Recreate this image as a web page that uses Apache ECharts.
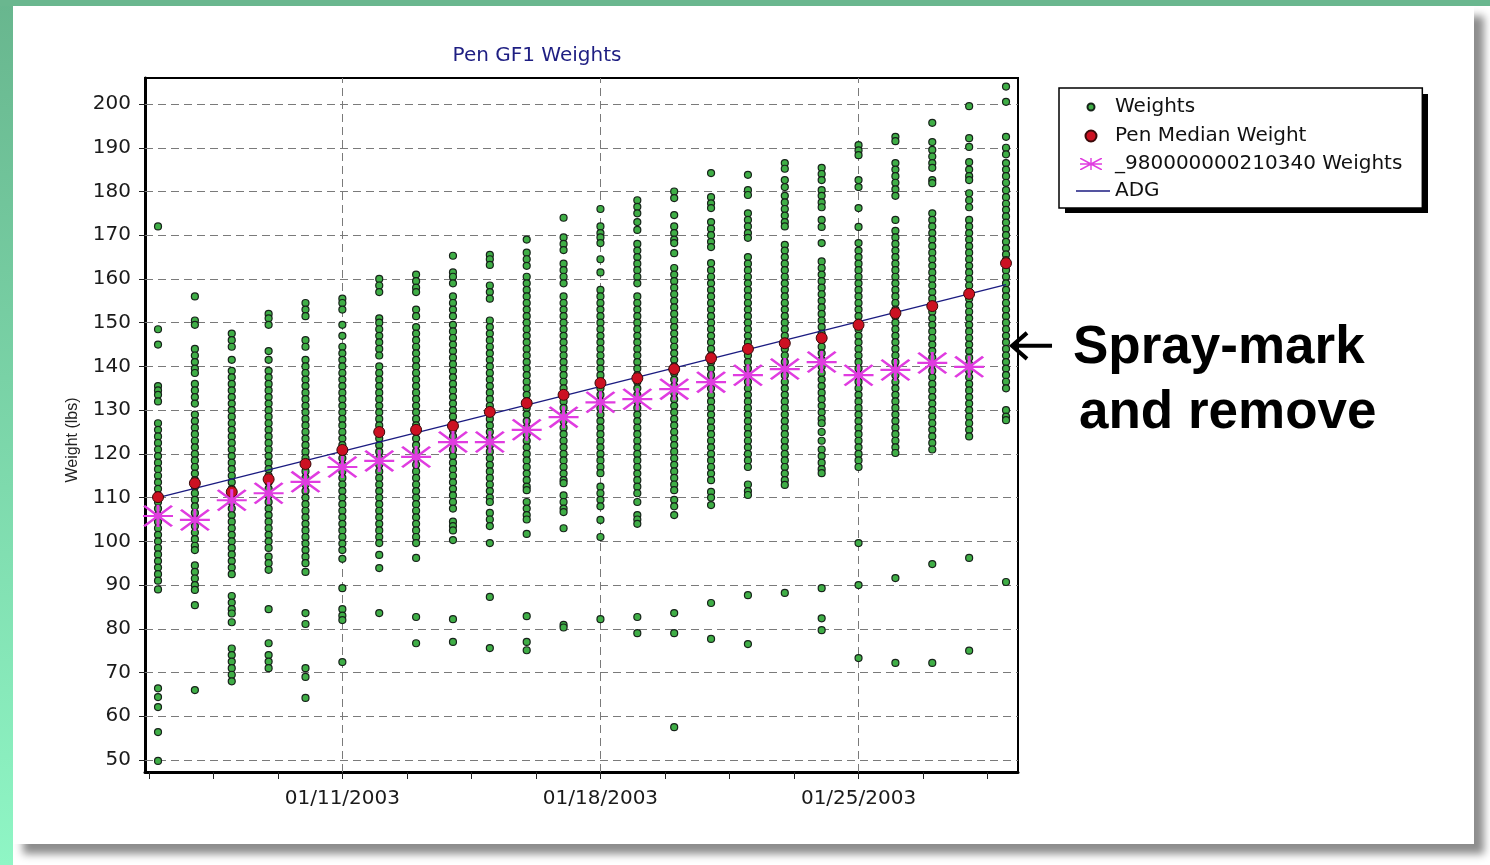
<!DOCTYPE html>
<html><head><meta charset="utf-8">
<script src="https://cdn.jsdelivr.net/npm/echarts@6/dist/echarts.min.js"></script>
<style>
html,body{margin:0;padding:0;width:1490px;height:865px;overflow:hidden;background:#ffffff;}
#frameL{position:absolute;left:0;top:0;width:13px;height:865px;background:linear-gradient(#68b68e,#8ff6c5);}
#frameT{position:absolute;left:0;top:0;width:1490px;height:6px;background:#6ab78f;}
#card{position:absolute;left:13px;top:6px;width:1461px;height:838px;background:#ffffff;box-shadow:10px 10px 8px rgba(0,0,0,0.45);}
#chart{position:absolute;left:0;top:0;width:1490px;height:865px;}
</style></head>
<body>
<div id="frameL"></div><div id="frameT"></div><div id="card"></div>
<div id="chart"></div>
<script>
// ---------------- DATA ----------------
const dates = ['01/06/2003','01/07/2003','01/08/2003','01/09/2003','01/10/2003','01/11/2003','01/12/2003','01/13/2003',
  '01/14/2003','01/15/2003','01/16/2003','01/17/2003','01/18/2003','01/19/2003','01/20/2003','01/21/2003',
  '01/22/2003','01/23/2003','01/24/2003','01/25/2003','01/26/2003','01/27/2003','01/28/2003','01/29/2003'];
const xLabelDates = ['01/11/2003','01/18/2003','01/25/2003'];
const yTickLabels = [50,60,70,80,90,100,110,120,130,140,150,160,170,180,190,200];

const medianWeights = [110.1,113.3,111.3,114.2,117.7,120.9,125.0,125.5,126.4,129.6,131.6,133.5,136.2,137.3,139.4,141.9,144.0,145.3,146.5,149.5,152.2,153.8,156.6,163.6];
const tagWeights = [105.8,104.9,109.4,111.0,113.6,117.0,118.4,119.3,122.7,122.7,125.5,128.4,131.8,132.5,134.8,136.4,138.0,139.4,141.0,138.0,139.2,140.8,139.9,null];
const adgWeights = [110.0,158.7];   // ADG line at first and last weigh day
const sprayMarkWeight = 144.7;      // animal pointed at by the annotation (last day)

const wJan06 = [172,148.5,145,135.5,134.5,133.5,132,127,125.5,124,122.5,121,119.5,118,116.5,115,113.5,112,110.5,109,107.5,106,104.5,103,101.5,100,98.5,97,95.5,94,92.5,91,89,66.4,64.4,62.1,56.4,49.8];
const wJan07 = [156,150.5,149.5,144,142.5,141,139.5,138.5,136,134.5,133,131.5,129,127.5,126,124.5,123,121.5,120,118.5,117,115.5,114,112.5,111,109.5,108,106.5,105,103.5,102,100.5,99,98,94.5,93,91.5,90,88.9,85.4,66];
const wJan08 = [147.5,146,144.5,141.5,139,137.5,136,134.5,133,131.5,130,128.5,127,125.5,124,122.5,121,119.5,118,116.5,115,113.5,112,110.5,109,107.5,106,104.5,103,101.5,100,98.5,97,95.5,94,92.5,87.5,86,84.5,83.5,81.5,75.5,74,72.5,71,69.5,68];
const wJan09 = [152,151,149.5,143.5,141.5,139,137.5,136,134.5,133,131.5,130,128.5,127,125.5,124,122.5,121,119.5,118,116.5,115,113.5,112,110.5,109,107.5,106,104.5,103,101.5,100,98.5,96.5,95,93.5,84.5,76.7,74,72.5,71];
const wJan10 = [154.5,153,151.5,146,144.5,141.5,140,138.5,137,135.5,134,132.5,131,129.5,128,126.5,125,123.5,122,120.5,119,117.5,116,114.5,113,111.5,110,108.5,107,105.5,104,102.5,101,99.5,98,96.5,95,93,83.6,81.1,71,69,64.2];
const wJan11 = [155.5,154.5,153,149.5,147,144.5,143,141.5,140,138.5,137,135.5,134,132.5,131,129.5,128,126.5,125,123.5,122,120.5,119,117.5,116,114.5,113,111.5,110,108.5,107,105.5,104,102.5,101,99.5,98,96,89.3,84.5,83,82,72.4];
const wJan12 = [160,158.5,157,151,150,148.5,147,145.5,144,142.5,140,138.5,137,135.5,134,132.5,131,129.5,128,126.5,125,123.5,122,120.5,119,117.5,116,114.5,113,111.5,110,108.5,107,105.5,104,102.5,101,99.6,96.9,93.9,83.6];
const wJan13 = [161,159.5,158,157,153,151.5,149,147.5,146,144.5,143,141.5,140,138.5,137,135.5,134,132.5,131,129.5,128,126.5,125,123.5,122,120.5,119,117.5,116,114.5,113,111.5,110,108.5,107,105.5,104,102.5,101,99.6,96.2,82.7,76.7];
const wJan14 = [165.3,161.5,160.5,159,156,154.5,153,151.5,149.5,148,146.5,145,143.5,142,140.5,139,137.5,136,134.5,133,131.5,130,128.5,127,125.5,124,122.5,121,119.5,118,116.5,115,113.5,112,110.5,109,107.5,104.5,103.5,102.5,100.3,82.2,77];
const wJan15 = [165.5,164.5,163.2,158.5,157,155.5,150.5,149,147.5,146,144.5,143,141.5,140,138.5,137,135.5,134,132.5,131,129.5,128,126.5,125,123.5,122,120.5,119,117.5,116,114.5,113,111.5,110,109,106.5,105,103.5,99.6,87.3,75.6];
const wJan16 = [169,166,164.5,163,160.5,159,157.5,156,154.5,153,151.5,150,148.5,147,145.5,144,142.5,141,139.5,138,136.5,135,133.5,132,130.5,129,127.5,126,124.5,123,121.5,120,118.5,117,115.5,114,112.5,111.7,109,107.5,106,105,101.7,82.9,77,75.1];
const wJan17 = [174,169.5,168,166.6,163.5,162,160.5,159,156,154.5,153,151.5,150,148.5,147,145.5,144,142.5,141,139.5,138,136.5,135,133.5,132,130.5,129,127.5,126,124.5,123,121.5,120,118.5,117,115.5,114,113.3,110.5,109,107.5,106.7,103,80.9,80.3];
const wJan18 = [176,172,170.5,169.5,168.2,164.5,161.5,157.5,156,154.5,153,151.5,150,148.5,147,145.5,144,142.5,141,139.5,138,136.5,135,133.5,132,130.5,129,127.5,126,124.5,123,121.5,120,118.5,117,115.6,112.5,111,109.5,108,104.9,101,82.2];
const wJan19 = [178,176.5,175,173,171.2,168,166.5,165,163.5,162,160.5,159,156,154.5,153,151.5,150,148.5,147,145.5,144,142.5,141,139.5,138,136.5,135,133.5,132,130.5,129,127.5,126,124.5,123,121.5,120,118.5,117,115.5,114,112.5,111,109,106,105,104,82.7,79];
const wJan20 = [180,178.5,174.6,172,170.5,169,168.2,165.9,162.5,161,159.5,158,156.5,155,153.5,152,150.5,149,147.5,146,144.5,143,141.5,140,138.5,137,135.5,134,132.5,131,129.5,128,126.5,125,123.5,122,120.5,119,117.5,116,114.5,113,111.7,109.5,108,106,83.6,79,57.5];
const wJan21 = [184.2,178.7,177.3,176.2,173,171.5,170,168.5,167.3,163.6,162,160.5,159,157.5,156,154.5,153,151.5,150,148.5,147,145.5,144,142.5,141,139.5,138,136.5,135,133.5,132,130.5,129,127.5,126,124.5,123,121.5,120,118.5,117,115.5,114,111.3,110,108.3,85.9,77.7];
const wJan22 = [183.8,180.3,179.2,175,173.5,172,170.5,169.4,165,163.5,162,160.5,159,157.5,156,154.5,153,151.5,150,148.5,147,145.5,144,142.5,141,139.5,138,136.5,135,133.5,132,130.5,129,127.5,126,124.5,123,121.5,120,118.5,117,113,111.5,110.6,87.7,76.5];
const wJan23 = [186.5,185.2,182.6,181,179,177.5,176,174.5,173,172,167.8,166.5,165,163.5,162,160.5,159,157.5,156,154.5,153,151.5,150,148.5,147,145.5,144,142.5,141,139.5,138,136.5,135,133.5,132,130.5,129,127.5,126,124.5,123,121.5,120,118.5,117,115.5,114,112.9,88.2];
const wJan24 = [185.4,184,182.6,180.3,179,177.5,176.4,173.5,171.9,168.2,164,162.5,161,159.5,158,156.5,155,153.5,152,150.5,149,147.5,146,144.5,143,141.5,140,138.5,137,135.5,134,132.5,131,129.5,128,127,125,123,121,119.5,118,116.5,115.6,89.3,82.4,79.7];
const wJan25 = [190.6,189.4,188.3,182.6,181,176.2,171.9,168.2,166.5,165,163.5,162,160.5,159,157.5,156,154.5,153,151.5,150,148.5,147,145.5,144,142.5,141,139.5,138,136.5,135,133.5,132,130.5,129,127.5,126,124.5,123,121.5,120,118.5,117,99.6,90,73.3];
const wJan26 = [192.5,191.5,186.5,185,183.5,182,180.5,179,173.5,171,169.5,168,166.5,165,163.5,162,160.5,159,157.5,156,154.5,153,151.5,150,148.5,147,145.5,144,142.5,141,139.5,138,136.5,135,133.5,132,130.5,129,127.5,126,124.5,123,121.5,120.2,91.6,72.2];
const wJan27 = [195.7,191.3,189.5,188,186.5,185.4,182.6,181.9,175,173.5,172,170.5,169,167.5,166,164.5,163,161.5,160,158.5,157,155.5,154,152.5,151,149.5,148,146.5,145,143.5,142,140.5,139,137.5,136,134.5,133,131.5,130,128.5,127,125.5,124,122.5,121,94.8,72.2];
const wJan28 = [199.5,192.2,190.2,186.7,185,183.5,182.6,179.6,178,176.4,173.5,172,170.5,169,167.5,166,164.5,163,161.5,160,158.5,157,155.5,154,152.5,151,149.5,148,146.5,145,143.5,142,140.5,139,137.5,136,134.5,133,131.5,130,128.5,127,125.5,124,96.2,75];
const wJan29 = [204,200.5,192.5,190,188.5,186.5,185,183.5,182,180.3,178.7,177.2,175.8,174.3,172.9,171.4,170,168.5,167,165.6,164.3,162,160.5,159,157.5,156,154.5,153,151.5,150,148.5,147,145.5,144,142.5,141,139.5,138,136.5,135,130,128.5,127.7,90.7];

const weightsByDay = [wJan06,wJan07,wJan08,wJan09,wJan10,wJan11,wJan12,wJan13,wJan14,wJan15,wJan16,wJan17,
  wJan18,wJan19,wJan20,wJan21,wJan22,wJan23,wJan24,wJan25,wJan26,wJan27,wJan28,wJan29];

// ---------------- HELPERS ----------------
const DAY = 86400000;
function toTs(s){ const p = s.split('/').map(Number); return Date.UTC(p[2], p[0]-1, p[1]); }
function fmt(t){ const d = new Date(Math.round(t)); const mm = String(d.getUTCMonth()+1).padStart(2,'0'); const dd = String(d.getUTCDate()).padStart(2,'0'); return mm + '/' + dd + '/' + d.getUTCFullYear(); }
const dateTs = dates.map(toTs);
const xLabelTs = xLabelDates.map(toTs);
const xMin = dateTs[0] - 0.353*DAY;
const xMax = dateTs[dateTs.length-1] + 0.325*DAY;
const xTickTs = [];
for (let t = xLabelTs[0] - 3*1.75*DAY; t <= xMax; t += 1.75*DAY) { if (t >= xMin) xTickTs.push(t); }

const weightPoints = [];
weightsByDay.forEach((ws, i) => ws.forEach(w => weightPoints.push([dateTs[i], w])));
const medianPoints = medianWeights.map((v, i) => [dateTs[i], v]);
const tagPoints = [];
tagWeights.forEach((v, i) => { if (v != null) tagPoints.push([dateTs[i], v]); });
const adgPoints = [[dateTs[0], adgWeights[0]], [dateTs[dateTs.length-1], adgWeights[1]]];

const ASTER = 'path://M0 45L100 45L100 55L0 55Z M45 0L55 0L55 100L45 100Z M7 0L100 93L93 100L0 7Z M93 0L100 7L7 100L0 93Z';
const ICON_W = 'path://M0 0M34 20M11.5 10A3.5 3.5 0 1 1 18.5 10A3.5 3.5 0 1 1 11.5 10Z';
const ICON_M = 'path://M0 0M34 20M9.5 10A5.5 5.5 0 1 1 20.5 10A5.5 5.5 0 1 1 9.5 10Z';
const ICON_A = 'path://M0 0M34 20M4 9.3L26 9.3L26 10.7L4 10.7Z M14.3 4L15.7 4L15.7 16L14.3 16Z M4 4L5.5 4L26 15L26 16L24.5 16L4 5Z M24.5 4L26 4L26 5L5.5 16L4 16L4 15Z';
const ICON_L = 'path://M0 0M34 20M0 9.3L34 9.3L34 10.7L0 10.7Z';

const FONT = 'DejaVu Sans';
const chart = echarts.init(document.getElementById('chart'), null, {renderer: 'canvas'});
const option = {
  animation: false,
  backgroundColor: 'transparent',
  title: {
    text: 'Pen GF1 Weights', left: 537, top: 46, padding: 0, textAlign: 'center',
    textStyle: {fontFamily: FONT, fontSize: 20, fontWeight: 'normal', color: '#1e1e82'}
  },
  legend: {
    orient: 'vertical', left: 1059, top: 88,
    padding: [8, 20, 7, 16], itemGap: 7, itemWidth: 34, itemHeight: 20,
    backgroundColor: '#ffffff', borderColor: '#000000', borderWidth: 1.5,
    selectedMode: false,
    textStyle: {fontFamily: FONT, fontSize: 20, color: '#111111', lineHeight: 20},
    data: [
      {name: 'Weights', icon: ICON_W},
      {name: 'Pen Median Weight', icon: ICON_M},
      {name: '_980000000210340 Weights', icon: ICON_A},
      {name: 'ADG', icon: ICON_L}
    ]
  },
  grid: {left: 145, right: 472, top: 78, bottom: 93, show: true, borderColor: '#000000', borderWidth: 2, backgroundColor: 'transparent'},
  xAxis: {
    type: 'value', min: xMin, max: xMax, scale: true,
    axisLine: {show: true, onZero: false, lineStyle: {color: '#000000', width: 3}},
    axisTick: {show: true, length: 7, customValues: xTickTs, lineStyle: {color: '#222222', width: 1}},
    axisLabel: {customValues: xLabelTs, formatter: v => fmt(v), margin: 17, fontFamily: FONT, fontSize: 20, color: '#1a1a1a'},
    splitLine: {show: false}, minorTick: {show: false}
  },
  yAxis: {
    type: 'value', min: 47.26, max: 205.95,
    name: 'Weight (lbs)', nameLocation: 'middle', nameGap: 64,
    nameTextStyle: {fontFamily: 'Liberation Sans', fontSize: 16, color: '#222222', padding: [0, 30, 0, 0]},
    axisLine: {show: true, onZero: false, lineStyle: {color: '#000000', width: 3}},
    axisTick: {show: true, length: 6, customValues: yTickLabels, lineStyle: {color: '#222222', width: 1}},
    axisLabel: {customValues: yTickLabels, margin: 14, fontFamily: FONT, fontSize: 20, color: '#1a1a1a'},
    splitLine: {show: false}
  },
  series: [
    {
      name: 'Weights', type: 'scatter', z: 3, data: weightPoints,
      symbol: 'circle', symbolSize: 7,
      itemStyle: {color: '#3fae46', borderColor: '#17231a', borderWidth: 1.2, opacity: 1},
      emphasis: {disabled: true},
      markLine: {
        silent: true, z: 1, symbol: ['none', 'none'], label: {show: false}, emphasis: {disabled: true},
        lineStyle: {color: '#7a7a7a', type: [8, 5], width: 1},
        data: yTickLabels.map(v => ({yAxis: v})).concat(xLabelTs.map(t => ({xAxis: t})))
      }
    },
    {
      name: 'ADG', type: 'line', z: 4, data: adgPoints, symbol: 'none', showSymbol: false,
      lineStyle: {color: '#1b1b80', width: 1.5}, itemStyle: {color: '#1b1b80'}, emphasis: {disabled: true}
    },
    {
      name: 'Pen Median Weight', type: 'scatter', z: 5, data: medianPoints,
      symbol: 'circle', symbolSize: 11,
      itemStyle: {color: '#cc1122', borderColor: '#3a0a0a', borderWidth: 1, opacity: 1},
      emphasis: {disabled: true}
    },
    {
      name: '_980000000210340 Weights', type: 'scatter', z: 6, data: tagPoints,
      symbol: ASTER, symbolSize: [30, 22],
      itemStyle: {color: '#e03ce0', opacity: 1},
      emphasis: {disabled: true}
    }
  ]
};
chart.setOption(option);

const tip = chart.convertToPixel({xAxisIndex: 0, yAxisIndex: 0}, [dateTs[dateTs.length-1], sprayMarkWeight]);
const ax = tip[0] + 6, ay = tip[1];
chart.setOption({
  graphic: [
    {type: 'rect', shape: {x: 1065, y: 94, width: 363, height: 119}, style: {fill: '#000000'}, z: 0, silent: true},
    {type: 'line', shape: {x1: ax, y1: ay, x2: ax + 40, y2: ay}, style: {stroke: '#000', lineWidth: 4}, z: 100},
    {type: 'polyline', shape: {points: [[ax + 15, ay - 13], [ax, ay], [ax + 15, ay + 13]]}, style: {stroke: '#000', lineWidth: 4, fill: null}, z: 100},
    {type: 'text', x: 1073, y: 348, z: 100, style: {text: 'Spray-mark', font: 'bold 53px "Liberation Sans"', fill: '#000', verticalAlign: 'middle', textVerticalAlign: 'middle'}},
    {type: 'text', x: 1079, y: 413, z: 100, style: {text: 'and remove', font: 'bold 53px "Liberation Sans"', fill: '#000', verticalAlign: 'middle', textVerticalAlign: 'middle'}}
  ]
});
</script>
</body></html>
